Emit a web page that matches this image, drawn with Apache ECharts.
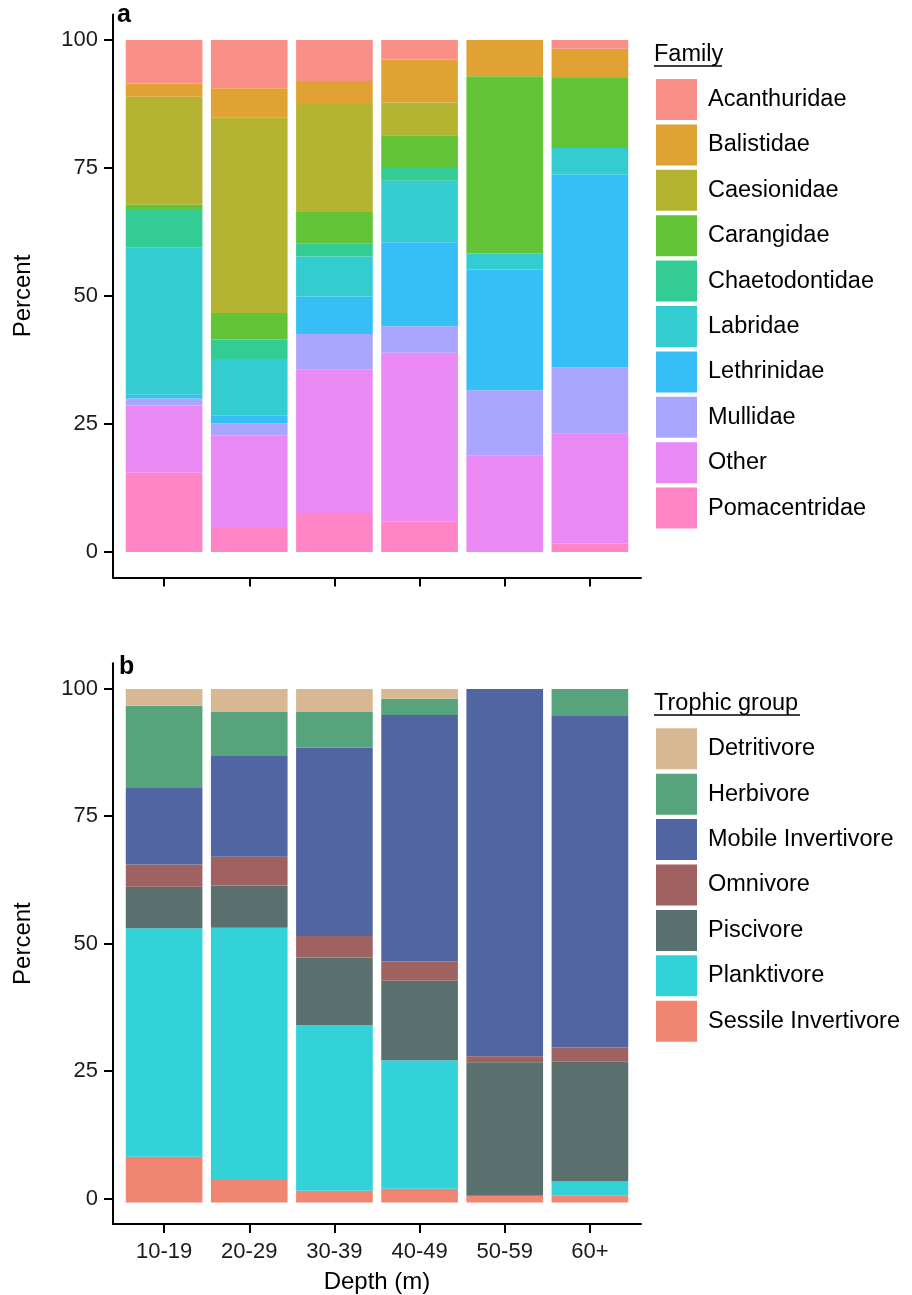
<!DOCTYPE html>
<html>
<head>
<meta charset="utf-8">
<script src="https://cdn.jsdelivr.net/npm/echarts@6/dist/echarts.min.js"></script>
<style>
  html, body { margin: 0; padding: 0; background: #ffffff; }
  #chart { width: 912px; height: 1295px; }
</style>
</head>
<body>
<div id="chart"></div>
<script>
// Depth classes along the x axis
const depthLabels = ['10-19', '20-29', '30-39', '40-49', '50-59', '60+'];
const yTicks = [0, 25, 50, 75, 100];

// Panel a: percent of fish by family at each depth class
const familyNames = ['Acanthuridae', 'Balistidae', 'Caesionidae', 'Carangidae', 'Chaetodontidae',
  'Labridae', 'Lethrinidae', 'Mullidae', 'Other', 'Pomacentridae'];
const acanthuridae   = [8.5, 9.4, 8.0, 3.8, 0.0, 1.7];
const balistidae     = [2.6, 5.8, 4.5, 8.4, 7.1, 5.7];
const caesionidae    = [21.1, 38.1, 21.1, 6.4, 0.0, 0.0];
const carangidae     = [0.8, 5.2, 6.2, 6.4, 34.6, 13.7];
const chaetodontidae = [7.6, 3.8, 2.5, 2.5, 0.0, 0.0];
const labridae       = [28.7, 11.1, 7.8, 12.0, 3.1, 5.2];
const lethrinidae    = [0.7, 1.5, 7.3, 16.4, 23.6, 37.6];
const mullidae       = [1.4, 2.3, 6.9, 5.2, 12.8, 13.0];
const other          = [13.1, 17.9, 28.3, 32.9, 18.8, 21.5];
const pomacentridae  = [15.5, 4.9, 7.4, 6.0, 0.0, 1.6];
const familyValues = [acanthuridae, balistidae, caesionidae, carangidae, chaetodontidae,
  labridae, lethrinidae, mullidae, other, pomacentridae];
const familyColors = ['#F98F87', '#DFA233', '#B4B432', '#62C436', '#33CC94',
  '#33CCD0', '#35BFF6', '#AAA5FF', '#EA88F4', '#FF85C6'];

// Panel b: percent of fish by trophic group at each depth class
const trophicNames = ['Detritivore', 'Herbivore', 'Mobile Invertivore', 'Omnivore',
  'Piscivore', 'Planktivore', 'Sessile Invertivore'];
const detritivore        = [3.3, 4.5, 4.4, 1.9, 0.0, 0.0];
const herbivore          = [16.0, 8.4, 7.0, 3.2, 0.0, 5.3];
const mobileInvertivore  = [14.9, 19.8, 36.7, 48.0, 71.5, 64.5];
const omnivore           = [4.3, 5.6, 4.2, 3.7, 1.2, 2.8];
const piscivore          = [8.1, 8.2, 13.2, 15.5, 26.0, 23.3];
const planktivore        = [44.5, 49.1, 32.2, 25.0, 0.0, 2.8];
const sessileInvertivore = [8.9, 4.4, 2.3, 2.7, 1.3, 1.3];
const trophicValues = [detritivore, herbivore, mobileInvertivore, omnivore,
  piscivore, planktivore, sessileInvertivore];
const trophicColors = ['#D7B892', '#57A37B', '#5065A1', '#A06161', '#5A706E', '#33D2D8', '#F08672'];

const FONT = '"Liberation Sans", Arial, sans-serif';
const Y_MIN = -5, Y_MAX = 105;      // 5% padding around 0..100
const X_PAD = 0.6;                  // discrete-axis padding, in category units
const depthIdx = depthLabels.map((_, i) => i);

// Panel frames: the outer grid carries the visible axes, the inner grid
// (inset by 0.1 band on each side) carries the category bars.
const PANEL_LEFT = 113, PANEL_WIDTH = 528;
const panels = [{ top: 14.4, height: 563.2 }, { top: 663.2, height: 565 }];
const bandPx = PANEL_WIDTH / (depthLabels.length - 1 + 2 * X_PAD);
const innerInset = (X_PAD - 0.5) * bandPx;

function outerXAxis(gridIndex, withLabels) {
  return {
    type: 'value', gridIndex: gridIndex, min: -X_PAD, max: depthLabels.length - 1 + X_PAD,
    splitLine: { show: false },
    axisLine: { show: true, onZero: false, lineStyle: { color: '#000', width: 2 } },
    axisTick: { show: true, length: 9, customValues: depthIdx, lineStyle: { color: '#000', width: 2 } },
    axisLabel: {
      show: withLabels, customValues: depthIdx, margin: 17,
      formatter: v => depthLabels[Math.round(v)] || '',
      color: '#1a1a1a', fontSize: 22, fontFamily: FONT
    },
    name: withLabels ? 'Depth (m)' : '', nameLocation: 'middle', nameGap: 46,
    nameTextStyle: { color: '#000', fontSize: 24, fontFamily: FONT }
  };
}

function outerYAxis(gridIndex) {
  return {
    type: 'value', gridIndex: gridIndex, min: Y_MIN, max: Y_MAX,
    splitLine: { show: false },
    axisLine: { show: true, onZero: false, lineStyle: { color: '#000', width: 2 } },
    axisTick: { show: true, length: 9, customValues: yTicks, lineStyle: { color: '#000', width: 2 } },
    axisLabel: { customValues: yTicks, margin: 15, color: '#1a1a1a', fontSize: 22, fontFamily: FONT },
    name: 'Percent', nameLocation: 'middle', nameGap: 78, nameRotate: 90,
    nameTextStyle: { color: '#000', fontSize: 24, fontFamily: FONT }
  };
}

function innerXAxis(gridIndex) {
  return { type: 'category', gridIndex: gridIndex, data: depthLabels, show: false };
}

function innerYAxis(gridIndex) {
  return { type: 'value', gridIndex: gridIndex, min: Y_MIN, max: Y_MAX, show: false };
}

// ggplot stacks the first level on top, so series are added bottom-first
function stackedSeries(names, values, colors, axisIndex, stackId) {
  const out = [];
  for (let k = names.length - 1; k >= 0; k--) {
    out.push({
      type: 'bar', name: names[k], stack: stackId,
      xAxisIndex: axisIndex, yAxisIndex: axisIndex,
      barWidth: '90%',
      itemStyle: { color: colors[k] },
      emphasis: { disabled: true },
      data: values[k]
    });
  }
  return out;
}

function legendFor(names, top) {
  return {
    orient: 'vertical', left: 656, top: top, padding: 0,
    icon: 'rect', itemWidth: 41, itemHeight: 41, itemGap: 4.4,
    selectedMode: false,
    data: names,
    textStyle: { color: '#000', fontSize: 23.5, fontFamily: FONT, padding: [0, 0, 0, 6] }
  };
}

function legendTitle(text, x, baseline, width) {
  return [
    { type: 'text', left: x, top: baseline - 19,
      style: { text: text, fill: '#000', font: '23.5px ' + FONT } },
    { type: 'line', shape: { x1: x, y1: baseline + 4, x2: x + width, y2: baseline + 4 },
      style: { stroke: '#000', lineWidth: 1.6 } }
  ];
}

const grids = [];
panels.forEach(p => grids.push({ left: PANEL_LEFT, top: p.top, width: PANEL_WIDTH, height: p.height }));
panels.forEach(p => grids.push({ left: PANEL_LEFT + innerInset, top: p.top,
  width: PANEL_WIDTH - 2 * innerInset, height: p.height }));

const chart = echarts.init(document.getElementById('chart'), null, { renderer: 'canvas' });
chart.setOption({
  animation: false,
  backgroundColor: '#ffffff',
  grid: grids,
  xAxis: [outerXAxis(0, false), outerXAxis(1, true), innerXAxis(2), innerXAxis(3)],
  yAxis: [outerYAxis(0), outerYAxis(1), innerYAxis(2), innerYAxis(3)],
  legend: [legendFor(familyNames, 79), legendFor(trophicNames, 728.3)],
  series: stackedSeries(familyNames, familyValues, familyColors, 2, 'family')
    .concat(stackedSeries(trophicNames, trophicValues, trophicColors, 3, 'trophic')),
  graphic: [
    { type: 'text', left: 117, top: 3, style: { text: 'a', fill: '#000', font: 'bold 25px ' + FONT } },
    { type: 'text', left: 119, top: 655, style: { text: 'b', fill: '#000', font: 'bold 25px ' + FONT } }
  ].concat(legendTitle('Family', 654, 62, 68))
   .concat(legendTitle('Trophic group', 654, 711, 146))
});
</script>
</body>
</html>
